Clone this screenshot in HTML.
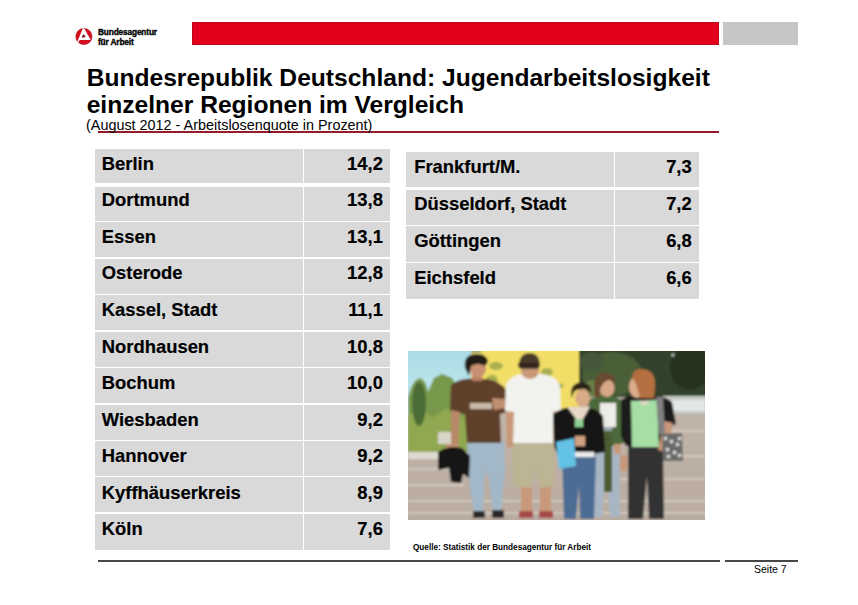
<!DOCTYPE html>
<html><head><meta charset="utf-8">
<style>
html,body{margin:0;padding:0;background:#fff;}
body{width:858px;height:605px;position:relative;overflow:hidden;font-family:"Liberation Sans",sans-serif;color:#000;}
.a{position:absolute;}
.t{position:absolute;white-space:nowrap;line-height:1;}
.cell{position:absolute;background:#d9d9d9;}
.nm{position:absolute;font-weight:bold;font-size:18px;white-space:nowrap;line-height:1;-webkit-text-stroke:0.18px #000;}
.nv{position:absolute;font-weight:bold;font-size:18px;white-space:nowrap;line-height:1;text-align:right;-webkit-text-stroke:0.18px #000;}
</style></head><body>

<!-- header bars -->
<div class="a" style="left:192px;top:22.1px;width:527px;height:22.6px;background:#e2001a;box-shadow:inset 0 0 0 0.7px #b00a1e;"></div>
<div class="a" style="left:723px;top:22.1px;width:75px;height:22.6px;background:#c6c6c6;"></div>

<!-- logo -->
<svg class="a" style="left:74px;top:26px" width="22" height="22" viewBox="74 26 22 22">
  <circle cx="83.9" cy="36.5" r="8.1" fill="#d40e1e" stroke="#a80c1a" stroke-width="0.6"/>
  <polygon points="82.9,28.3 84.1,28.3 90.8,39.9 79.6,40.1 78.2,42.8 77.2,42.0" fill="#fff"/>
  <polygon points="83.6,34.0 81.6,37.8 85.6,37.0" fill="#7a0a18"/>
</svg>
<div class="t" style="left:98px;top:27.3px;font-size:8.3px;font-weight:bold;letter-spacing:-0.15px;line-height:10px;-webkit-text-stroke:0.35px #000;">Bundesagentur<br>für Arbeit</div>

<!-- title -->
<div class="t" style="left:86.7px;top:63.6px;font-size:24.6px;font-weight:bold;line-height:27.2px;">Bundesrepublik Deutschland: Jugendarbeitslosigkeit<br>einzelner Regionen im Vergleich</div>
<div class="a" style="left:98px;top:131px;width:621px;height:2px;background:#951a2a;"></div>
<div class="t" style="left:86px;top:118px;font-size:14.4px;">(August 2012 - Arbeitslosenquote in Prozent)</div>

<!-- LEFT TABLE -->
<div id="lt">
<div class="cell" style="left:95px;top:148.80px;width:207.75px;height:34.44px"></div>
<div class="cell" style="left:304.25px;top:148.80px;width:85.75px;height:34.44px"></div>
<div class="nm" style="left:101.8px;top:154.72px;font-size:18.4px">Berlin</div>
<div class="nv" style="right:475.10px;top:154.72px;font-size:18.4px">14,2</div>
<div class="cell" style="left:95px;top:187.24px;width:207.75px;height:33.69px"></div>
<div class="cell" style="left:304.25px;top:187.24px;width:85.75px;height:33.69px"></div>
<div class="nm" style="left:101.8px;top:191.28px;font-size:18.4px">Dortmund</div>
<div class="nv" style="right:475.10px;top:191.28px;font-size:18.4px">13,8</div>
<div class="cell" style="left:95px;top:222.42px;width:207.75px;height:34.94px"></div>
<div class="cell" style="left:304.25px;top:222.42px;width:85.75px;height:34.94px"></div>
<div class="nm" style="left:101.8px;top:227.84px;font-size:18.4px">Essen</div>
<div class="nv" style="right:475.10px;top:227.84px;font-size:18.4px">13,1</div>
<div class="cell" style="left:95px;top:258.86px;width:207.75px;height:34.94px"></div>
<div class="cell" style="left:304.25px;top:258.86px;width:85.75px;height:34.94px"></div>
<div class="nm" style="left:101.8px;top:264.40px;font-size:18.4px">Osterode</div>
<div class="nv" style="right:475.10px;top:264.40px;font-size:18.4px">12,8</div>
<div class="cell" style="left:95px;top:295.30px;width:207.75px;height:34.94px"></div>
<div class="cell" style="left:304.25px;top:295.30px;width:85.75px;height:34.94px"></div>
<div class="nm" style="left:101.8px;top:300.96px;font-size:18.4px">Kassel, Stadt</div>
<div class="nv" style="right:475.10px;top:300.96px;font-size:18.4px">11,1</div>
<div class="cell" style="left:95px;top:331.73px;width:207.75px;height:34.94px"></div>
<div class="cell" style="left:304.25px;top:331.73px;width:85.75px;height:34.94px"></div>
<div class="nm" style="left:101.8px;top:337.52px;font-size:18.4px">Nordhausen</div>
<div class="nv" style="right:475.10px;top:337.52px;font-size:18.4px">10,8</div>
<div class="cell" style="left:95px;top:368.17px;width:207.75px;height:34.94px"></div>
<div class="cell" style="left:304.25px;top:368.17px;width:85.75px;height:34.94px"></div>
<div class="nm" style="left:101.8px;top:374.08px;font-size:18.4px">Bochum</div>
<div class="nv" style="right:475.10px;top:374.08px;font-size:18.4px">10,0</div>
<div class="cell" style="left:95px;top:404.60px;width:207.75px;height:34.94px"></div>
<div class="cell" style="left:304.25px;top:404.60px;width:85.75px;height:34.94px"></div>
<div class="nm" style="left:101.8px;top:410.64px;font-size:18.4px">Wiesbaden</div>
<div class="nv" style="right:475.10px;top:410.64px;font-size:18.4px">9,2</div>
<div class="cell" style="left:95px;top:441.04px;width:207.75px;height:34.94px"></div>
<div class="cell" style="left:304.25px;top:441.04px;width:85.75px;height:34.94px"></div>
<div class="nm" style="left:101.8px;top:447.20px;font-size:18.4px">Hannover</div>
<div class="nv" style="right:475.10px;top:447.20px;font-size:18.4px">9,2</div>
<div class="cell" style="left:95px;top:477.48px;width:207.75px;height:34.94px"></div>
<div class="cell" style="left:304.25px;top:477.48px;width:85.75px;height:34.94px"></div>
<div class="nm" style="left:101.8px;top:483.76px;font-size:18.4px">Kyffhäuserkreis</div>
<div class="nv" style="right:475.10px;top:483.76px;font-size:18.4px">8,9</div>
<div class="cell" style="left:95px;top:513.91px;width:207.75px;height:35.69px"></div>
<div class="cell" style="left:304.25px;top:513.91px;width:85.75px;height:35.69px"></div>
<div class="nm" style="left:101.8px;top:520.32px;font-size:18.4px">Köln</div>
<div class="nv" style="right:475.10px;top:520.32px;font-size:18.4px">7,6</div>
</div>
<!-- RIGHT TABLE -->
<div id="rt">
<div class="cell" style="left:406.2px;top:151.90px;width:207.55px;height:35.15px"></div>
<div class="cell" style="left:615.25px;top:151.90px;width:83.45px;height:35.15px"></div>
<div class="nm" style="left:414.2px;top:157.82px;font-size:18.4px">Frankfurt/M.</div>
<div class="nv" style="right:166.30px;top:157.82px;font-size:18.4px">7,3</div>
<div class="cell" style="left:406.2px;top:190.45px;width:207.55px;height:34.45px"></div>
<div class="cell" style="left:615.25px;top:190.45px;width:83.45px;height:34.45px"></div>
<div class="nm" style="left:414.2px;top:194.77px;font-size:18.4px">Düsseldorf, Stadt</div>
<div class="nv" style="right:166.30px;top:194.77px;font-size:18.4px">7,2</div>
<div class="cell" style="left:406.2px;top:226.30px;width:207.55px;height:35.45px"></div>
<div class="cell" style="left:615.25px;top:226.30px;width:83.45px;height:35.45px"></div>
<div class="nm" style="left:414.2px;top:231.72px;font-size:18.4px">Göttingen</div>
<div class="nv" style="right:166.30px;top:231.72px;font-size:18.4px">6,8</div>
<div class="cell" style="left:406.2px;top:263.15px;width:207.55px;height:36.15px"></div>
<div class="cell" style="left:615.25px;top:263.15px;width:83.45px;height:36.15px"></div>
<div class="nm" style="left:414.2px;top:268.67px;font-size:18.4px">Eichsfeld</div>
<div class="nv" style="right:166.30px;top:268.67px;font-size:18.4px">6,6</div>
</div>

<!-- photo -->
<svg class="a" style="left:408px;top:351px" width="297" height="168.6" viewBox="408 351 297 168.6">
<defs>
<filter id="bl" x="-5%" y="-5%" width="110%" height="110%"><feGaussianBlur stdDeviation="0.9"/></filter>
<linearGradient id="sky" x1="0" y1="0" x2="0" y2="1"><stop offset="0" stop-color="#a8dce6"/><stop offset="1" stop-color="#c8eaee"/></linearGradient>
<linearGradient id="pave" x1="0" y1="0" x2="0" y2="1"><stop offset="0" stop-color="#c6b9ae"/><stop offset="1" stop-color="#b9aba0"/></linearGradient>
</defs>
<g filter="url(#bl)">
<!-- background -->
<rect x="400" y="345" width="310" height="180" fill="url(#pave)"/>
<rect x="400" y="345" width="72" height="70" fill="url(#sky)"/>
<rect x="471" y="345" width="108" height="64" fill="#f2de66"/>
<rect x="471" y="345" width="10" height="8" fill="#9aa878"/>
<rect x="579" y="345" width="130" height="52" fill="#33422c"/>
<ellipse cx="612" cy="374" rx="30" ry="22" fill="#4a5e38"/>
<ellipse cx="596" cy="390" rx="16" ry="10" fill="#6a8048"/>
<ellipse cx="592" cy="362" rx="12" ry="10" fill="#44583a"/>
<ellipse cx="690" cy="368" rx="20" ry="22" fill="#26301f"/>
<circle cx="673" cy="355" r="1.5" fill="#c8d0c8"/>
<!-- yellow-green bush on building -->
<g fill="#8a9c48" opacity="0.7">
<ellipse cx="496" cy="366" rx="7" ry="4"/><ellipse cx="492" cy="380" rx="6" ry="5"/><ellipse cx="500" cy="392" rx="8" ry="5"/>
<ellipse cx="547" cy="372" rx="6" ry="4"/><ellipse cx="557" cy="386" rx="7" ry="3"/><ellipse cx="545" cy="394" rx="5" ry="3"/>
<ellipse cx="492" cy="405" rx="6" ry="8"/>
</g>
<!-- left vegetation -->
<path d="M408,452 L408,398 Q412,380 420,378 Q426,380 428,392 L434,378 L442,374 L452,378 L458,388 L464,396 L470,404 L470,452 Z" fill="#78984c"/>
<path d="M408,452 L408,416 L420,406 L432,418 L446,408 L470,420 L470,452 Z" fill="#90a850"/>
<ellipse cx="419" cy="404" rx="7" ry="22" fill="#4c6c36"/>
<rect x="438" y="432" width="14" height="12" fill="#d8d4c8"/>
<!-- curb -->
<rect x="408" y="452" width="62" height="7" fill="#dedad2"/>
<!-- ground behind girls -->
<rect x="579" y="397" width="130" height="18" fill="#b4aaa0"/>
<!-- fence / car -->
<rect x="663" y="396" width="44" height="18" fill="#c4c8c4"/>
<rect x="670" y="400" width="35" height="11" fill="#e4e8e4"/>
<!-- pavement stripes -->
<g fill="#d8d0c6" opacity="0.8">
<rect x="408" y="468" width="60" height="2"/><rect x="408" y="484" width="56" height="2"/><rect x="408" y="500" width="300" height="2"/><rect x="600" y="478" width="105" height="2"/><rect x="665" y="430" width="40" height="2"/><rect x="676" y="455" width="29" height="2"/><rect x="408" y="512" width="300" height="2"/>
</g>

<!-- Boy 1 -->
<path d="M467,441 L504,441 L505,470 L501,512 L493,514 L489,478 L485,470 L483,512 L474,514 L469,478 Z" fill="#a2b8c8"/>
<rect x="473" y="511" width="12" height="7" fill="#2a2a2a"/><rect x="492" y="510" width="12" height="8" fill="#2a2a2a"/>
<path d="M451,385 Q462,377 476,379 Q494,377 505,388 L507,412 L500,414 L501,443 L467,443 L465,414 L450,412 Z" fill="#5e402c"/>
<rect x="470" y="403" width="22" height="6" fill="#c8b8a8"/>
<path d="M451,410 L460,412 L458,446 L451,446 Z" fill="#b88868"/>
<rect x="446" y="444" width="13" height="10" fill="#c09070"/>
<path d="M492,398 L505,399 L506,408 L494,410 Z" fill="#c09070"/>
<rect x="472" y="374" width="10" height="7" fill="#b88060"/>
<ellipse cx="478" cy="369" rx="8" ry="9" fill="#c89072"/>
<path d="M465,368 Q463,355 475,354 Q487,353 488,362 L485,366 Q478,362 471,366 L469,376 Z" fill="#241a14"/>
<!-- black jacket -->
<path d="M438,452 Q448,445 462,448 L470,456 L469,478 L463,474 L461,483 L451,482 L449,468 L438,470 Z" fill="#181818"/>

<!-- Boy 2 -->
<rect x="521" y="486" width="11" height="26" fill="#c89878"/><rect x="540" y="486" width="11" height="26" fill="#c89878"/>
<rect x="519" y="511" width="14" height="7" fill="#a84848"/><rect x="539" y="511" width="14" height="7" fill="#a84848"/>
<path d="M512,441 L554,441 L555,486 L540,488 L535,470 L531,488 L513,486 Z" fill="#bcb492"/>
<path d="M506,410 L514,410 L514,446 L507,448 Z" fill="#c89878"/>
<path d="M551,406 L559,406 L559,438 L551,440 Z" fill="#c89878"/>
<path d="M506,384 Q512,374 524,374 L542,374 Q556,375 560,386 L561,410 L553,412 L553,443 L513,443 L514,412 L505,411 Z" fill="#f2f2ee"/>
<ellipse cx="530" cy="371" rx="9" ry="8" fill="#c89878"/>
<path d="M519,368 Q518,354 529,353 Q540,353 540,366 L538,369 L521,369 Z" fill="#4a3a2a"/>
<rect x="518" y="363" width="21" height="4" fill="#2e241c"/>

<!-- Girl 4 (behind, green cardigan) -->
<path d="M588,441 L620,441 L620,517 L610,517 L606,470 L602,517 L589,517 Z" fill="#a8b6c4"/>
<path d="M589,400 Q600,394 612,396 Q622,398 624,406 L626,442 L616,446 L590,446 L587,420 Z" fill="#4c6a3a"/>
<rect x="600" y="403" width="16" height="24" fill="#eeece8"/>
<rect x="604" y="427" width="8" height="8" fill="#9aa8b4"/>
<rect x="604" y="431" width="8" height="61" fill="#4e5c32"/>
<ellipse cx="607" cy="388" rx="7.5" ry="9" fill="#d8a888"/>
<path d="M595,397 Q591,374 604,373 Q616,373 615,384 L610,380 Q603,380 600,390 L600,398 Z" fill="#6a4a30"/>
<rect x="614" y="444" width="7" height="10" fill="#c89878"/>

<!-- Girl 3 (black hoodie) -->
<path d="M562,456 L596,456 L594,519 L580,519 L579,485 L576,519 L564,519 Z" fill="#4e6c94"/>
<path d="M553,414 Q566,405 578,407 Q596,406 603,416 L605,452 L560,460 L554,446 Z" fill="#161616"/>
<path d="M567,407 L590,407 L580,424 Z" fill="#e8d8c8"/>
<rect x="575" y="419" width="8" height="8" fill="#90d098"/>
<rect x="570" y="452" width="24" height="5" fill="#ececec"/>
<rect x="575" y="436" width="10" height="10" fill="#d0a080"/>
<path d="M556,442 L574,438 L576,466 L559,469 Z" fill="#64c2e6"/>
<ellipse cx="582.5" cy="398" rx="7.5" ry="9" fill="#d8aa88"/>
<path d="M571.5,398 Q569,383 581,382.5 Q592,383 591,393 L586,389 Q578,388 574,392 Z" fill="#2c2018"/>

<!-- Girl 5 (redhead) -->
<path d="M628,446 L663,446 L664,519 L649,519 L647,476 L643,519 L628,519 Z" fill="#333333"/>
<path d="M621,400 Q630,394 640,395 Q664,394 672,402 L676,424 L668,428 L664,446 L626,446 L621,436 Z" fill="#1c1c1c"/>
<path d="M631,401 L657,400 L659,447 L632,447 Z" fill="#a6dea4"/>
<path d="M664,421 L673,423 L666,452 L658,450 Z" fill="#c89878"/>
<rect x="620" y="455" width="7" height="16" fill="#c89878"/>
<path d="M656,397 L663,397 L665,434 L659,434 Z" fill="#808080"/>
<path d="M662,434 L682,433 L683,461 L663,461 Z" fill="#6a6a6a"/>
<g fill="#e0e0e0"><rect x="664" y="437" width="3" height="3"/><rect x="670" y="440" width="3" height="3"/><rect x="676" y="443" width="3" height="3"/><rect x="666" y="448" width="3" height="3"/><rect x="673" y="451" width="3" height="3"/><rect x="667" y="455" width="3" height="3"/><rect x="678" y="437" width="3" height="3"/><rect x="678" y="454" width="3" height="3"/></g>
<ellipse cx="637" cy="387" rx="8" ry="11" fill="#dcac8c"/>
<path d="M640,398 Q636,380 632,378 Q632,369 642,369 Q656,370 655,386 L654,398 Z" fill="#b46e40"/>
<path d="M638,401 L650,401 L645,406 Z" fill="#e0d8c8"/>
</g>
</svg>

<div class="t" style="left:413px;top:544.2px;font-size:8.2px;font-weight:bold;">Quelle: Statistik der Bundesagentur für Arbeit</div>

<!-- footer -->
<div class="a" style="left:98px;top:560.25px;width:622px;height:1.5px;background:#484848;"></div>
<div class="a" style="left:725px;top:560.25px;width:73px;height:1.5px;background:#484848;"></div>
<div class="t" style="left:754px;top:563.7px;font-size:10.5px;">Seite 7</div>

</body></html>
